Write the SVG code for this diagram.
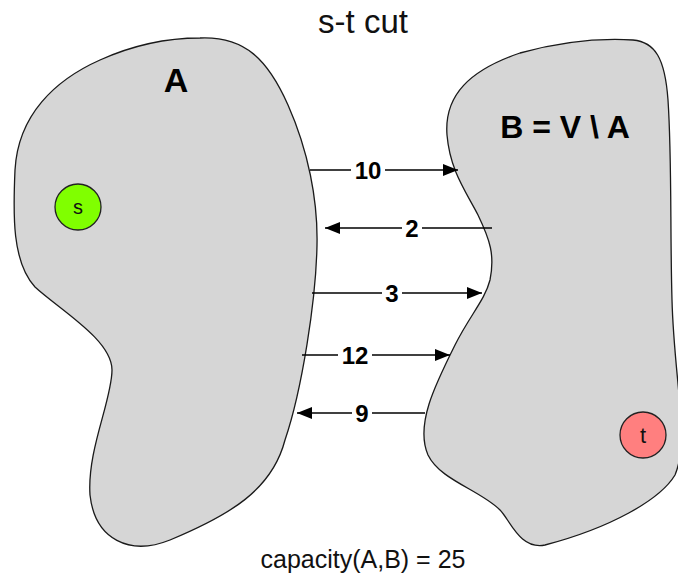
<svg xmlns="http://www.w3.org/2000/svg" width="678" height="573" viewBox="0 0 678 573">
<style>
.region{fill:#d6d6d6;stroke:#1a1a1a;stroke-width:1.3}
.big{font-family:"Liberation Sans",Arial,sans-serif;font-weight:bold;fill:#000;text-anchor:middle}
.plain{font-family:"Liberation Sans",Arial,sans-serif;fill:#111;text-anchor:middle}
.edge{stroke:#000;stroke-width:1.3;fill:none}
.lbl{font-family:"Liberation Sans",Arial,sans-serif;font-weight:bold;font-size:24px;fill:#000;text-anchor:middle}
.lblbg{fill:#fff}
.node{stroke:#222;stroke-width:1.3}
</style>
<defs>
<marker id="ah" viewBox="0 0 15 12" refX="15" refY="6" markerWidth="15" markerHeight="12" markerUnits="userSpaceOnUse" orient="auto">
<path d="M0,0 L15,6 L0,12 Z" fill="#000"/>
</marker>
</defs>
<rect width="678" height="573" fill="#fff"/>
<text class="plain" x="363" y="33" font-size="33">s-t cut</text>
<g id="A">
<path class="region" d="M200,38 C245,36 268,60 288,105 C308,150 318,200 317,245 C316,300 302,390 285,440 C272,490 230,515 170,540 C130,556 95,540 90,495 C87,450 112,400 112,370 C112,340 60,310 35,287 C12,262 13,215 15,170 C18,115 55,80 100,60 C140,42 175,38 200,38 Z"/>
<text class="big" x="176" y="92" font-size="34">A</text>
</g>
<g id="B">
<path class="region" d="M633,40 C655,42 665,58 668,100 C672,160 670,230 672,300 C674,380 690,440 675,475 C660,500 610,528 545,545 C520,550 510,520 500,510 C480,490 440,480 428,455 C415,425 435,385 455,345 C470,315 485,300 490,280 C495,255 490,240 478,215 C465,190 450,170 447,135 C444,95 470,70 520,53 C560,42 600,38 633,40 Z"/>
<text class="big" x="565" y="138" font-size="32">B = V \ A</text>
</g>
<g id="s">
<circle class="node" cx="78" cy="207" r="23" fill="#80ff00"/>
<text class="plain" x="78" y="214" font-size="20">s</text>
</g>
<g id="t">
<circle class="node" cx="643" cy="435" r="23" fill="#ff7f7f"/>
<text class="plain" x="643" y="443" font-size="22">t</text>
</g>
<g id="connectors">
<line class="edge" x1="310" y1="170" x2="458" y2="170" marker-end="url(#ah)"/>
<line class="edge" x1="492" y1="228" x2="325" y2="228" marker-end="url(#ah)"/>
<line class="edge" x1="312" y1="293" x2="482" y2="293" marker-end="url(#ah)"/>
<line class="edge" x1="302" y1="355" x2="450" y2="355" marker-end="url(#ah)"/>
<line class="edge" x1="425" y1="413" x2="297" y2="413" marker-end="url(#ah)"/>
<rect class="lblbg" x="351" y="158" width="34" height="24"/>
<text class="lbl" x="368" y="179">10</text>
<rect class="lblbg" x="402" y="216" width="20" height="24"/>
<text class="lbl" x="412" y="237">2</text>
<rect class="lblbg" x="382" y="281" width="20" height="24"/>
<text class="lbl" x="392" y="302">3</text>
<rect class="lblbg" x="338" y="343" width="34" height="24"/>
<text class="lbl" x="355" y="364">12</text>
<rect class="lblbg" x="352" y="401" width="20" height="24"/>
<text class="lbl" x="362" y="422">9</text>
</g>
<text class="plain" x="363" y="568" font-size="25">capacity(A,B) = 25</text>
</svg>
